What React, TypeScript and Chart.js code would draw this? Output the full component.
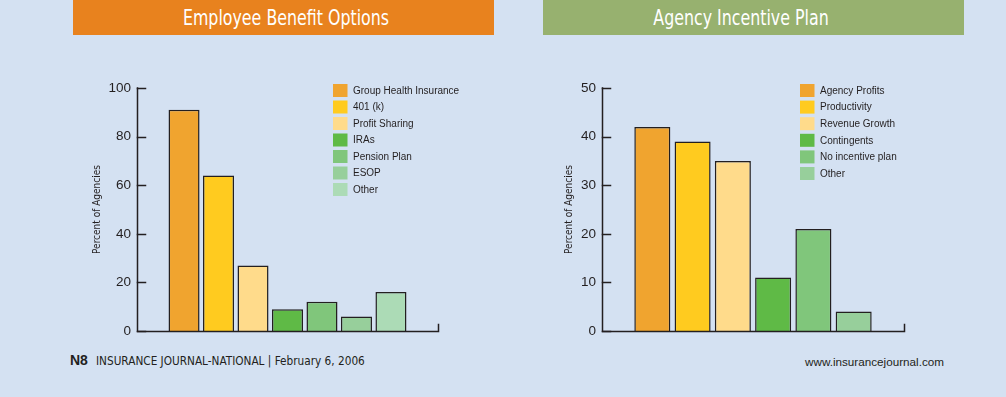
import React, { useEffect, useRef } from "react";
import { Chart, registerables } from "chart.js";

Chart.register(...registerables);

// ---------- data ----------
const benefitLabels = [
  "Group Health Insurance",
  "401 (k)",
  "Profit Sharing",
  "IRAs",
  "Pension Plan",
  "ESOP",
  "Other",
];
const benefitValues = [91, 64, 27, 9, 12, 6, 16];
const benefitColors = ["#f0a42f", "#ffcb1f", "#ffdb8b", "#5fba46", "#80c67b", "#97cf9b", "#acdbb6"];
const benefitTicks = [0, 20, 40, 60, 80, 100];

const incentiveLabels = [
  "Agency Profits",
  "Productivity",
  "Revenue Growth",
  "Contingents",
  "No incentive plan",
  "Other",
];
const incentiveValues = [42, 39, 35, 11, 21, 4];
const incentiveColors = ["#f0a42f", "#ffcb1f", "#ffdb8b", "#5fba46", "#80c67b", "#97cf9b"];
const incentiveTicks = [0, 10, 20, 30, 40, 50];

const yAxisTitle = "Percent of Agencies";
const leftTitle = "Employee Benefit Options";
const rightTitle = "Agency Incentive Plan";

const BG = "#d4e1f2";
const INK = "#231f20";
const NARROW = '"DejaVu Sans Condensed", "Liberation Sans", sans-serif';
const SANS = '"Liberation Sans", Arial, sans-serif';

type Cfg = {
  labels: string[];
  values: number[];
  colors: string[];
  ticks: number[];
  width: number;
  height: number;
  padLeft: number;
  padTop: number;
  padRight: number;
  padBottom: number;
  barPct: number;
  catPct: number;
  legendX: number;
  legendY: number;
  legendStep: number;
  titlePad: number;
};

function BarChart({ cfg }: { cfg: Cfg }) {
  const ref = useRef<HTMLCanvasElement | null>(null);
  useEffect(() => {
    if (!ref.current) return;
    const decor = {
      id: "decor",
      afterDatasetsDraw(chart: any) {
        const ctx = chart.ctx;
        const ca = chart.chartArea;
        const ys = chart.scales.y;
        const L = Math.round(ca.left) + 0.5;
        const B = Math.round(ca.bottom) + 0.5;
        ctx.save();
        ctx.strokeStyle = INK;
        ctx.lineWidth = 1.5;
        ctx.lineCap = "square";
        // axes
        ctx.beginPath();
        ctx.moveTo(L, Math.round(ca.top));
        ctx.lineTo(L, B);
        ctx.lineTo(Math.round(ca.right) + 0.5, B);
        ctx.lineTo(Math.round(ca.right) + 0.5, B - 7);
        ctx.stroke();
        // inward ticks on y axis
        ys.ticks.forEach((t: any) => {
          const py = Math.round(ys.getPixelForValue(t.value)) + 0.5;
          ctx.beginPath();
          ctx.moveTo(L, py);
          ctx.lineTo(L + 8, py);
          ctx.stroke();
        });
        // legend
        ctx.font = "10px " + SANS;
        ctx.textBaseline = "middle";
        chart.data.datasets.forEach((ds: any, i: number) => {
          const cy = cfg.legendY + i * cfg.legendStep;
          ctx.fillStyle = ds.backgroundColor;
          ctx.fillRect(cfg.legendX, cy - 6.5, 14.5, 13);
          ctx.fillStyle = INK;
          ctx.fillText(ds.label, cfg.legendX + 20, cy + 0.5);
        });
        ctx.restore();
      },
    };
    const chart = new Chart(ref.current, {
      type: "bar",
      data: {
        labels: [""],
        datasets: cfg.labels.map((l, i) => ({
          label: l,
          data: [cfg.values[i]],
          backgroundColor: cfg.colors[i],
          borderColor: INK,
          borderWidth: 1.5,
          barPercentage: cfg.barPct,
          categoryPercentage: cfg.catPct,
        })),
      },
      options: {
        responsive: false,
        animation: false,
        devicePixelRatio: 1,
        layout: { padding: { left: 0, top: cfg.padTop, right: cfg.padRight, bottom: 0 } },
        plugins: { legend: { display: false }, tooltip: { enabled: false }, title: { display: false } },
        scales: {
          x: {
            offset: true,
            ticks: { display: false },
            grid: { display: false, drawTicks: false },
            border: { display: false },
            afterFit: (s: any) => {
              s.height = cfg.padBottom;
            },
          },
          y: {
            min: cfg.ticks[0],
            max: cfg.ticks[cfg.ticks.length - 1],
            afterBuildTicks: (s: any) => {
              s.ticks = cfg.ticks.map((v) => ({ value: v }));
            },
            ticks: {
              color: INK,
              padding: 6,
              font: { family: SANS, size: 13.5 },
            },
            grid: { display: false, drawTicks: false },
            border: { display: false },
            title: {
              display: true,
              text: yAxisTitle,
              color: INK,
              font: { family: NARROW, size: 10 },
              padding: { top: cfg.titlePad, bottom: 0 },
            },
            afterFit: (s: any) => {
              s.width = cfg.padLeft;
            },
          },
        },
      },
      plugins: [decor],
    } as any);
    return () => chart.destroy();
  }, [cfg]);
  return <canvas ref={ref} width={cfg.width} height={cfg.height} style={{ display: "block", width: cfg.width, height: cfg.height }} />;
}

const leftCfg: Cfg = {
  labels: benefitLabels,
  values: benefitValues,
  colors: benefitColors,
  ticks: benefitTicks,
  width: 440,
  height: 290,
  padLeft: 77,
  padTop: 28,
  padRight: 440 - 378,
  padBottom: 19,
  barPct: 0.9,
  catPct: 0.802,
  legendX: 273,
  legendY: 30.5,
  legendStep: 16.5,
  titlePad: 31,
};
const rightCfg: Cfg = {
  labels: incentiveLabels,
  values: incentiveValues,
  colors: incentiveColors,
  ticks: incentiveTicks,
  width: 450,
  height: 290,
  padLeft: 72,
  padTop: 28,
  padRight: 450 - 374,
  padBottom: 19,
  barPct: 0.895,
  catPct: 0.8,
  legendX: 270,
  legendY: 30.5,
  legendStep: 16.6,
  titlePad: 33,
};

export default function App() {
  useEffect(() => {
    document.body.style.margin = "0";
  }, []);
  const banner = (x: number, w: number, color: string, text: string, cx: number) => (
    <div
      style={{
        position: "absolute",
        left: x,
        top: 0,
        width: w,
        height: 35,
        background: color,
      }}
    >
      <div
        style={{
          position: "absolute",
          left: cx - x,
          top: 0,
          transform: "translateX(-50%) scaleX(0.8)",
          color: "#fff",
          fontFamily: NARROW,
          fontSize: 22,
          lineHeight: "35px",
          whiteSpace: "nowrap",
        }}
      >
        {text}
      </div>
    </div>
  );
  return (
    <div style={{ position: "absolute", left: 0, top: 0, width: 1006, height: 397, background: BG, overflow: "hidden" }}>
      {banner(73, 421, "#e8821e", leftTitle, 285.5)}
      {banner(543, 421, "#97b16f", rightTitle, 741)}
      <div style={{ position: "absolute", left: 60, top: 60 }}>
        <BarChart cfg={leftCfg} />
      </div>
      <div style={{ position: "absolute", left: 530, top: 60 }}>
        <BarChart cfg={rightCfg} />
      </div>
      <div
        style={{
          position: "absolute",
          left: 70,
          top: 352,
          fontFamily: SANS,
          fontSize: 14,
          fontWeight: "bold",
          color: INK,
          whiteSpace: "nowrap",
        }}
      >
        N8
      </div>
      <div
        style={{
          position: "absolute",
          left: 96,
          top: 353,
          fontFamily: NARROW,
          fontSize: 13,
          color: INK,
          whiteSpace: "nowrap",
          transform: "scaleX(0.9)",
          transformOrigin: "left top",
        }}
      >
        {"INSURANCE JOURNAL-NATIONAL |  February 6, 2006"}
      </div>
      <div
        style={{
          position: "absolute",
          left: 805,
          top: 355,
          fontFamily: SANS,
          fontSize: 11.7,
          color: INK,
          whiteSpace: "nowrap",
        }}
      >
        www.insurancejournal.com
      </div>
    </div>
  );
}
